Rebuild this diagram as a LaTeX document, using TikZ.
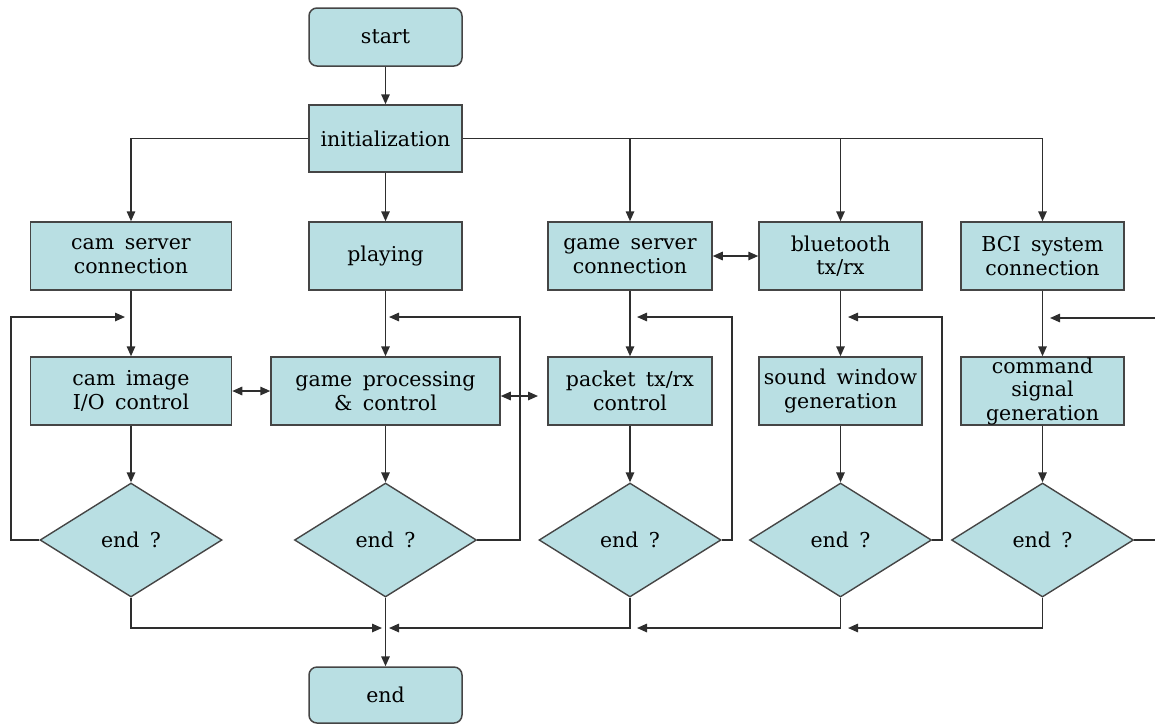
\documentclass[tikz,border=0pt]{standalone}
\usepackage{fontspec}
\setmainfont{DejaVu Serif}[WordSpace=1.6]
\usetikzlibrary{arrows.meta,shapes.geometric}
\definecolor{boxfill}{HTML}{B9DFE3}
\definecolor{edgecol}{HTML}{454545}
\definecolor{linecol}{HTML}{2E2E2E}
\begin{document}
\begin{tikzpicture}[x=1pt,y=-1pt,
  txt/.style={font=\fontsize{20.5}{23.5}\selectfont},
  box/.style={draw=edgecol,fill=boxfill,line width=1.5pt,inner sep=0pt,align=center,
              minimum width=#1,minimum height=68pt,txt},
  box/.default=163pt,
  term/.style={box=153pt,rounded corners=8pt,minimum height=58pt},
  dec/.style={diamond,draw=edgecol,fill=boxfill,line width=1.4pt,inner sep=0pt,
              minimum width=182pt,minimum height=114pt,txt},
  conn/.style={draw=linecol,line width=1.5pt},
  arr/.style={conn,-{Triangle[length=10pt,width=8.5pt]}},
  darr/.style={conn,{Triangle[length=10pt,width=8.5pt]}-{Triangle[length=10pt,width=8.5pt]}}]
\useasboundingbox (0,0) rectangle (1155,724);

% terminals
\node[term] (start) at (385.5,37) {start};
\node[box=153pt,minimum height=67pt] (init) at (385.5,138.5) {initialization};
\node[term,minimum height=56pt] (endn) at (385.5,695) {end};

% row 1
\node[box=201pt] (cam1) at (131,256) {cam server\\connection};
\node[box=153pt] (play) at (385.5,256) {playing};
\node[box=164pt] (gsc) at (630,256) {game server\\connection};
\node[box] (bt) at (840.5,256) {bluetooth\\tx/rx};
\node[box] (bci) at (1042.5,256) {BCI system\\connection};

% row 2
\node[box=201pt] (cam2) at (131,391) {cam image\\I/O control};
\node[box=229pt] (gp) at (385.5,391) {game processing\\\& control};
\node[box=164pt] (pk) at (630,391) {packet tx/rx\\control};
\node[box] (sw) at (840.5,391) {sound window\\generation};
\node[box] (cmd) at (1042.5,391) {command\\signal\\generation};

% decisions
\node[dec] (d1) at (131,540) {end ?};
\node[dec] (d2) at (385.5,540) {end ?};
\node[dec] (d3) at (630,540) {end ?};
\node[dec] (d4) at (840.5,540) {end ?};
\node[dec] (d5) at (1042.5,540) {end ?};

% helper coordinates
\coordinate (pkin) at (538,396);
\coordinate (c1) at (11,317);   \coordinate (t1) at (125,317);
\coordinate (c2) at (520,317);  \coordinate (t2) at (389,317);
\coordinate (c3) at (732,317);  \coordinate (t3) at (637,317);
\coordinate (c4) at (942,317);  \coordinate (t4) at (848,317);
\coordinate (e5a) at (1155,540);
\coordinate (e5b) at (1155,318); \coordinate (t5) at (1050,318);
\coordinate (m1) at (382,628);
\coordinate (m2) at (389,628);
\coordinate (m3) at (637,628);
\coordinate (m4) at (848,628);

% top connectors
\draw[arr] (start) -- (init);
\draw[arr] (init.west) -| (cam1.north);
\draw[arr] (init) -- (play);
\draw[arr] (init.east) -| (gsc.north);
\draw[arr] (init.east) -| (bt.north);
\draw[arr] (init.east) -| (bci.north);

% horizontal links
\draw[darr] (gsc.east) -- (bt.west);
\draw[darr] (cam2.east) -- (gp.west);
\draw[darr] ([yshift=-5pt]gp.east) -- (pkin);

% verticals
\draw[arr] (cam1) -- (cam2);
\draw[arr] (play) -- (gp);
\draw[arr] (gsc) -- (pk);
\draw[arr] (bt) -- (sw);
\draw[arr] (bci) -- (cmd);
\draw[arr] (cam2) -- (d1);
\draw[arr] (gp) -- (d2);
\draw[arr] (pk) -- (d3);
\draw[arr] (sw) -- (d4);
\draw[arr] (cmd) -- (d5);

% loops back
\draw[arr] (d1.west) -| (c1) -- (t1);
\draw[arr] (d2.east) -| (c2) -- (t2);
\draw[arr] (d3.east) -| (c3) -- (t3);
\draw[arr] (d4.east) -| (c4) -- (t4);
\draw[conn] (d5.east) -- (e5a);
\draw[arr] (e5b) -- (t5);

% collection to end
\draw[arr] (d1.south) |- (m1);
\draw[arr] (d3.south) |- (m2);
\draw[arr] (d4.south) |- (m3);
\draw[arr] (d5.south) |- (m4);
\draw[arr] (d2.south) -- (endn.north);
\end{tikzpicture}
\end{document}
